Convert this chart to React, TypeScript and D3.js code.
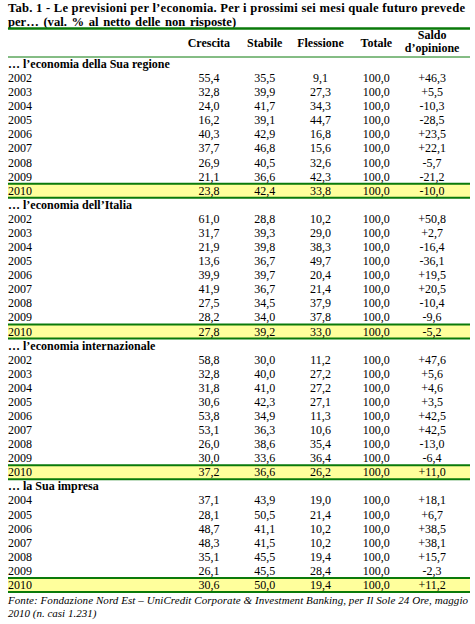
import React from 'react';
import * as d3 from 'd3';

const columns = ['Crescita', 'Stabile', 'Flessione', 'Totale', 'Saldo'];

const sections = [
  '… l’economia della Sua regione',
  '… l’economia dell’Italia',
  '… l’economia internazionale',
  '… la Sua impresa',
];

const yearsLong = ['2002', '2003', '2004', '2005', '2006', '2007', '2008', '2009', '2010'];
const yearsShort = ['2004', '2005', '2006', '2007', '2008', '2009', '2010'];

// Crescita, Stabile, Flessione, Totale, Saldo
const regione = [
  [55.4, 35.5, 9.1, 100.0, 46.3],
  [32.8, 39.9, 27.3, 100.0, 5.5],
  [24.0, 41.7, 34.3, 100.0, -10.3],
  [16.2, 39.1, 44.7, 100.0, -28.5],
  [40.3, 42.9, 16.8, 100.0, 23.5],
  [37.7, 46.8, 15.6, 100.0, 22.1],
  [26.9, 40.5, 32.6, 100.0, -5.7],
  [21.1, 36.6, 42.3, 100.0, -21.2],
  [23.8, 42.4, 33.8, 100.0, -10.0],
];

const italia = [
  [61.0, 28.8, 10.2, 100.0, 50.8],
  [31.7, 39.3, 29.0, 100.0, 2.7],
  [21.9, 39.8, 38.3, 100.0, -16.4],
  [13.6, 36.7, 49.7, 100.0, -36.1],
  [39.9, 39.7, 20.4, 100.0, 19.5],
  [41.9, 36.7, 21.4, 100.0, 20.5],
  [27.5, 34.5, 37.9, 100.0, -10.4],
  [28.2, 34.0, 37.8, 100.0, -9.6],
  [27.8, 39.2, 33.0, 100.0, -5.2],
];

const internazionale = [
  [58.8, 30.0, 11.2, 100.0, 47.6],
  [32.8, 40.0, 27.2, 100.0, 5.6],
  [31.8, 41.0, 27.2, 100.0, 4.6],
  [30.6, 42.3, 27.1, 100.0, 3.5],
  [53.8, 34.9, 11.3, 100.0, 42.5],
  [53.1, 36.3, 10.6, 100.0, 42.5],
  [26.0, 38.6, 35.4, 100.0, -13.0],
  [30.0, 33.6, 36.4, 100.0, -6.4],
  [37.2, 36.6, 26.2, 100.0, 11.0],
];

const impresa = [
  [37.1, 43.9, 19.0, 100.0, 18.1],
  [28.1, 50.5, 21.4, 100.0, 6.7],
  [48.7, 41.1, 10.2, 100.0, 38.5],
  [48.3, 41.5, 10.2, 100.0, 38.1],
  [35.1, 45.5, 19.4, 100.0, 15.7],
  [26.1, 45.5, 28.4, 100.0, -2.3],
  [30.6, 50.0, 19.4, 100.0, 11.2],
];

const sectionYears = [yearsLong, yearsLong, yearsLong, yearsShort];
const sectionValues = [regione, italia, internazionale, impresa];

const GREEN = '#0a7a0a';
const YELLOW = '#ffff9c';
const FONT = '"Liberation Serif", "Times New Roman", serif';

const fmt = (v: number) => d3.format('.1f')(v).replace('.', ',').replace('−', '-');
const fmtSaldo = (v: number) => (v > 0 ? '+' : '') + fmt(v);

export default function App() {
  const width = 475;
  const height = 624;
  const left = 8;
  const right = 470;

  // flatten rows: section header + year rows
  type Row = { kind: 'head' | 'year'; label: string; values?: number[]; last?: boolean };
  const rows: Row[] = [];
  sections.forEach((s, si) => {
    rows.push({ kind: 'head', label: s });
    sectionYears[si].forEach((yr, i) => {
      rows.push({
        kind: 'year',
        label: yr,
        values: sectionValues[si][i],
        last: i === sectionYears[si].length - 1,
      });
    });
  });

  const x = d3.scaleBand<string>().domain(columns).range([181, 460]);
  const cx = (c: string) => (x(c) ?? 0) + x.bandwidth() / 2;
  const y = d3.scaleLinear().domain([0, rows.length]).range([57, 592]);
  const rowH = y(1) - y(0);

  return (
    <svg
      width={width}
      height={height}
      style={{ position: 'absolute', left: 0, top: 0, background: '#fff' }}
      fontFamily={FONT}
    >
      <text x={left} y={11.5} fontSize={12.6} fontWeight="bold" textLength={457} lengthAdjust="spacing">
        Tab. 1 - Le previsioni per l’economia. Per i prossimi sei mesi quale futuro prevede
      </text>
      <text x={left} y={25.5} fontSize={12.6} fontWeight="bold" wordSpacing={1.5}>
        per… (val. % al netto delle non risposte)
      </text>
      <line x1={left} x2={right} y1={28.5} y2={28.5} stroke={GREEN} strokeWidth={2.5} />

      {/* column headers */}
      <g fontSize={12} fontWeight="bold" textAnchor="middle">
        {columns.slice(0, 4).map((c) => (
          <text key={c} x={cx(c)} y={47}>
            {c}
          </text>
        ))}
        <text x={cx('Saldo')} y={39}>Saldo</text>
        <text x={cx('Saldo')} y={52}>d’opinione</text>
      </g>
      <line x1={left} x2={right} y1={57} y2={57} stroke={GREEN} strokeWidth={1} />

      {/* highlight rows */}
      {rows.map((r, i) =>
        r.last ? (
          <g key={'h' + i}>
            <rect x={left} y={y(i)} width={right - left} height={rowH} fill={YELLOW} />
            <line x1={left} x2={right} y1={y(i)} y2={y(i)} stroke={GREEN} strokeWidth={2} />
            <line x1={left} x2={right} y1={y(i + 1)} y2={y(i + 1)} stroke={GREEN} strokeWidth={2} />
          </g>
        ) : null
      )}

      {/* rows */}
      <g fontSize={12}>
        {rows.map((r, i) => (
          <g key={i}>
            <text x={left} y={y(i) + 11} fontWeight={r.kind === 'head' ? 'bold' : 'normal'}>
              {r.label}
            </text>
            {r.values &&
              r.values.map((v, j) => (
                <text key={j} x={cx(columns[j])} y={y(i) + 11} textAnchor="middle">
                  {j === 4 ? fmtSaldo(v) : fmt(v)}
                </text>
              ))}
          </g>
        ))}
      </g>

      {/* footer */}
      <g fontSize={11} fontStyle="italic">
        <text x={left} y={604} textLength={460} lengthAdjust="spacing">
          Fonte: Fondazione Nord Est – UniCredit Corporate &amp; Investment Banking, per Il Sole 24 Ore, maggio
        </text>
        <text x={left} y={617}>2010 (n. casi 1.231)</text>
      </g>
    </svg>
  );
}
